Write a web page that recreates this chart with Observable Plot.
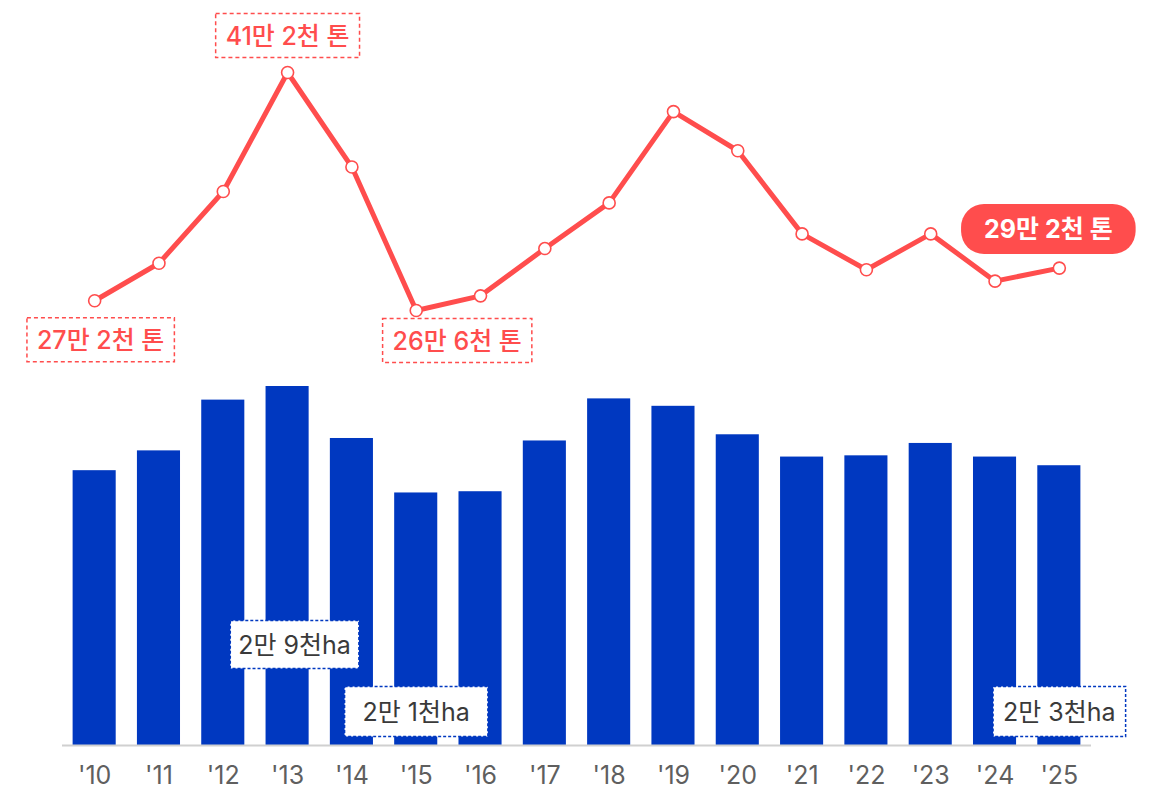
<!DOCTYPE html>
<html>
<head>
<meta charset="utf-8">
<script src="https://cdn.jsdelivr.net/npm/d3@7"></script>
<script src="https://cdn.jsdelivr.net/npm/@observablehq/plot@0.6"></script>
<style>
  html, body { margin: 0; padding: 0; background: #fff; }
  #chart { width: 1160px; }
  #chart svg { display: block; overflow: visible; }
</style>
</head>
<body>
<div id="chart"></div>
<script>
// ---- data ----
const years = ["'10","'11","'12","'13","'14","'15","'16","'17","'18","'19","'20","'21","'22","'23","'24","'25"];
// production, thousand tonnes
const production = [272, 295, 339, 412, 354, 266, 275, 304, 332, 388, 364, 313, 291, 313, 284, 292];
// cultivated area, thousand ha
const area = [22.2, 23.8, 27.9, 29.0, 24.8, 20.4, 20.5, 24.6, 28.0, 27.4, 25.1, 23.3, 23.4, 24.4, 23.3, 22.6];
const prodLabelYears = ["'10", "'13", "'15", "'25"];
const prodLabelTexts = ["27만 2천 톤", "41만 2천 톤", "26만 6천 톤", "29만 2천 톤"];
const areaLabelYears = ["'13", "'15", "'25"];
const areaLabelTexts = ["2만 9천ha", "2만 1천ha", "2만 3천ha"];

(function () {
const RED = "#ff4d4d";
const BLUE = "#0038c0";
const FONT = "Inter, 'Noto Sans CJK KR', sans-serif";

const prodData = years.map((y, i) => ({year: y, v: production[i]}));
const areaData = years.map((y, i) => ({year: y, v: area[i]}));
const prodOf = y => production[years.indexOf(y)];

const W = 1160, ML = 62, MR = 69;

// ---- top: production line ----
const prodLabelOffsets = [[6, 40], [0, -36], [41, 31], [-11, -38]];
const isPill = i => i === 3;
const prodLabelMarks = prodLabelYears.map((y, i) => Plot.text([{year: y, v: prodOf(y), t: prodLabelTexts[i]}], {
  x: "year", y: "v", text: "t",
  dx: prodLabelOffsets[i][0], dy: prodLabelOffsets[i][1],
  fill: isPill(i) ? "#fff" : RED,
  fontSize: 25, fontWeight: isPill(i) ? 700 : 500
}));

const topPlot = Plot.plot({
  width: W, height: 380,
  marginLeft: ML, marginRight: MR, marginTop: 72, marginBottom: 70,
  style: {fontFamily: FONT, background: "transparent"},
  x: {type: "point", domain: years, padding: 0.5, round: false, axis: null},
  y: {domain: [266, 412], axis: null},
  marks: [
    Plot.line(prodData, {x: "year", y: "v", stroke: RED, strokeWidth: 5, strokeLinejoin: "round"}),
    Plot.dot(prodData, {x: "year", y: "v", r: 6, fill: "#fff", stroke: RED, strokeWidth: 1.6}),
    ...prodLabelMarks
  ]
});

// ---- bottom: area bars ----
const areaLabelOffsets = [[7, -100], [0, -33], [0, -33]];
const areaLabelMarks = areaLabelYears.map((y, i) => Plot.text([{year: y, v: 0, t: areaLabelTexts[i]}], {
  x: "year", y: "v", text: "t",
  dx: areaLabelOffsets[i][0], dy: areaLabelOffsets[i][1],
  fill: "#3a3a3a", fontSize: 25, fontWeight: 400
}));

const bottomPlot = Plot.plot({
  width: W, height: 413,
  marginLeft: ML, marginRight: MR, marginTop: 6, marginBottom: 48,
  style: {fontFamily: FONT, background: "transparent"},
  x: {type: "band", domain: years, paddingInner: 0.33, paddingOuter: 0.165, round: false, axis: null},
  y: {domain: [0, 29], axis: null},
  marks: [
    Plot.barY(areaData, {x: "year", y: "v", fill: BLUE}),
    Plot.ruleY([0], {stroke: "#d0d0d0", strokeWidth: 2}),
    Plot.axisX({tickSize: 0, tickPadding: 21, fontSize: 25, fill: "#5f5f5f", label: null}),
    ...areaLabelMarks
  ]
});

const chart = document.getElementById("chart");
chart.appendChild(topPlot);
chart.appendChild(bottomPlot);

// ---- draw boxes behind labels ----
function boxify(svg, text, opts) {
  svg.querySelectorAll("text").forEach(t => {
    if (t.textContent !== text) return;
    const bb = t.getBBox();
    const r = document.createElementNS("http://www.w3.org/2000/svg", "rect");
    r.setAttribute("x", bb.x - opts.px);
    r.setAttribute("y", bb.y - opts.py);
    r.setAttribute("width", bb.width + 2 * opts.px);
    r.setAttribute("height", bb.height + 2 * opts.py);
    if (t.getAttribute("transform")) r.setAttribute("transform", t.getAttribute("transform"));
    r.setAttribute("fill", opts.fill);
    if (opts.rx) r.setAttribute("rx", opts.rx);
    if (opts.stroke) {
      r.setAttribute("stroke", opts.stroke);
      r.setAttribute("stroke-width", opts.sw);
      r.setAttribute("stroke-dasharray", opts.dash);
    }
    t.parentNode.insertBefore(r, t);
  });
}
const redBox = {py: 7, fill: "#fff", stroke: RED, sw: 1.5, dash: "4 3"};
boxify(topPlot, prodLabelTexts[0], {...redBox, px: 10});
boxify(topPlot, prodLabelTexts[1], {...redBox, px: 10});
boxify(topPlot, prodLabelTexts[2], {...redBox, px: 10});
boxify(topPlot, prodLabelTexts[3], {px: 23, py: 10, fill: RED, rx: 23});
const blueBox = {py: 9, fill: "#fff", stroke: BLUE, sw: 1.5, dash: "3 2"};
boxify(bottomPlot, areaLabelTexts[0], {...blueBox, px: 8, py: 9});
boxify(bottomPlot, areaLabelTexts[1], {...blueBox, px: 18, py: 10});
boxify(bottomPlot, areaLabelTexts[2], {...blueBox, px: 10, py: 10});
})();
</script>
</body>
</html>
